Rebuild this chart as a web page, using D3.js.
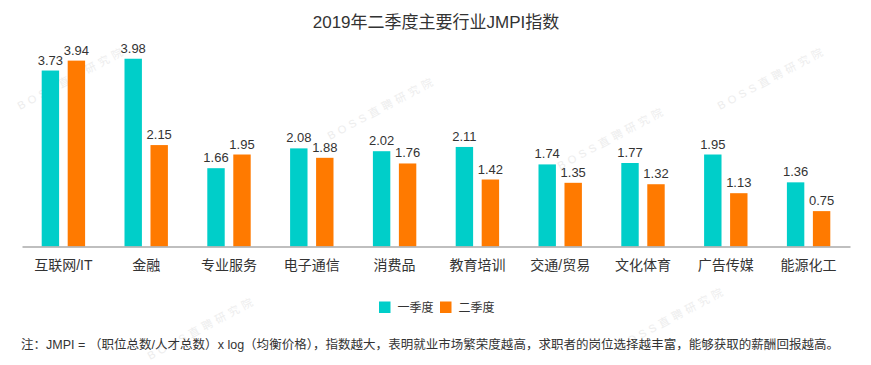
<!DOCTYPE html>
<meta charset="utf-8">
<style>
body { margin: 0; background: #fff; }
svg text { font-family: "Liberation Sans", "Noto Sans CJK SC", sans-serif; fill: #333; }
.title { font-size: 17px; }
.val { font-size: 13px; }
.cat { font-size: 14px; }
.legend text { font-size: 12px; }
.note { font-size: 12.5px; }
.wm { font-size: 11px; fill: #ededed; letter-spacing: 4px; }
</style>
<body>
<script src="https://cdn.jsdelivr.net/npm/d3@7"></script>
<script>

var categories = ["互联网/IT", "金融", "专业服务", "电子通信", "消费品", "教育培训", "交通/贸易", "文化体育", "广告传媒", "能源化工"];
var q1 = [3.73, 3.98, 1.66, 2.08, 2.02, 2.11, 1.74, 1.77, 1.95, 1.36];
var q2 = [3.94, 2.15, 1.95, 1.88, 1.76, 1.42, 1.35, 1.32, 1.13, 0.75];
var seriesNames = ["一季度", "二季度"];
var colors = ["#00cec9", "#ff7a00"];

var width = 871, height = 365;

var svg = d3.select("body").append("svg")
    .attr("width", width)
    .attr("height", height);

// faint watermark
[[20, 110], [330, 140], [560, 170], [720, 110], [620, 350], [150, 360]].forEach(function (p) {
  svg.append("text")
    .attr("class", "wm")
    .attr("transform", "translate(" + p[0] + "," + p[1] + ") rotate(-28)")
    .text("BOSS直聘研究院");
});

svg.append("text")
  .attr("class", "title")
  .attr("x", 436)
  .attr("y", 28)
  .attr("text-anchor", "middle")
  .text("2019年二季度主要行业JMPI指数");

var x0 = d3.scaleBand()
    .domain(categories)
    .range([22, 850])
    .paddingInner(0)
    .paddingOuter(0);

var x1 = d3.scaleBand()
    .domain([0, 1])
    .range([x0.bandwidth() / 2 - 21.7, x0.bandwidth() / 2 + 21.7])
    .paddingInner(0.33)
    .paddingOuter(0);

var y = d3.scaleLinear()
    .domain([0, 4])
    .range([246.5, 57.8]);

var rows = categories.map(function (c, i) {
  return { cat: c, vals: [q1[i], q2[i]] };
});

var groups = svg.selectAll(".grp")
    .data(rows)
  .enter().append("g")
    .attr("class", "grp")
    .attr("transform", function (d) { return "translate(" + x0(d.cat) + ",0)"; });

var bars = groups.selectAll("g")
    .data(function (d) { return d.vals.map(function (v, k) { return { k: k, v: v }; }); })
  .enter().append("g");

bars.append("rect")
  .attr("x", function (d) { return x1(d.k); })
  .attr("y", function (d) { return y(d.v); })
  .attr("width", x1.bandwidth())
  .attr("height", function (d) { return y(0) - y(d.v); })
  .attr("fill", function (d) { return colors[d.k]; });

bars.append("text")
  .attr("class", "val")
  .attr("x", function (d) { return x1(d.k) + x1.bandwidth() / 2; })
  .attr("y", function (d) { return y(d.v) - 6; })
  .attr("text-anchor", "middle")
  .text(function (d) { return d.v.toFixed(2); });

// axis
var axis = svg.append("g")
    .attr("transform", "translate(0," + y(0) + ")")
    .call(d3.axisBottom(x0).tickSize(0).tickPadding(14));
axis.select(".domain").attr("stroke", "#aaa").attr("stroke-width", 1.5);
axis.selectAll("text").attr("class", "cat").style("font-size", "14px").attr("fill", "#333");

// legend
var legend = svg.append("g").attr("class", "legend");
var lx = [379, 440];
seriesNames.forEach(function (n, i) {
  legend.append("rect")
    .attr("x", lx[i]).attr("y", 301.5)
    .attr("width", 11.5).attr("height", 11.5)
    .attr("fill", colors[i]);
  legend.append("text")
    .attr("x", lx[i] + 18.5).attr("y", 311.5)
    .text(n);
});

svg.append("text")
  .attr("class", "note")
  .attr("x", 21)
  .attr("y", 349)
  .attr("textLength", 818)
  .attr("lengthAdjust", "spacing")
  .text("注：JMPI = （职位总数/人才总数）x log（均衡价格），指数越大，表明就业市场繁荣度越高，求职者的岗位选择越丰富，能够获取的薪酬回报越高。");

</script>
